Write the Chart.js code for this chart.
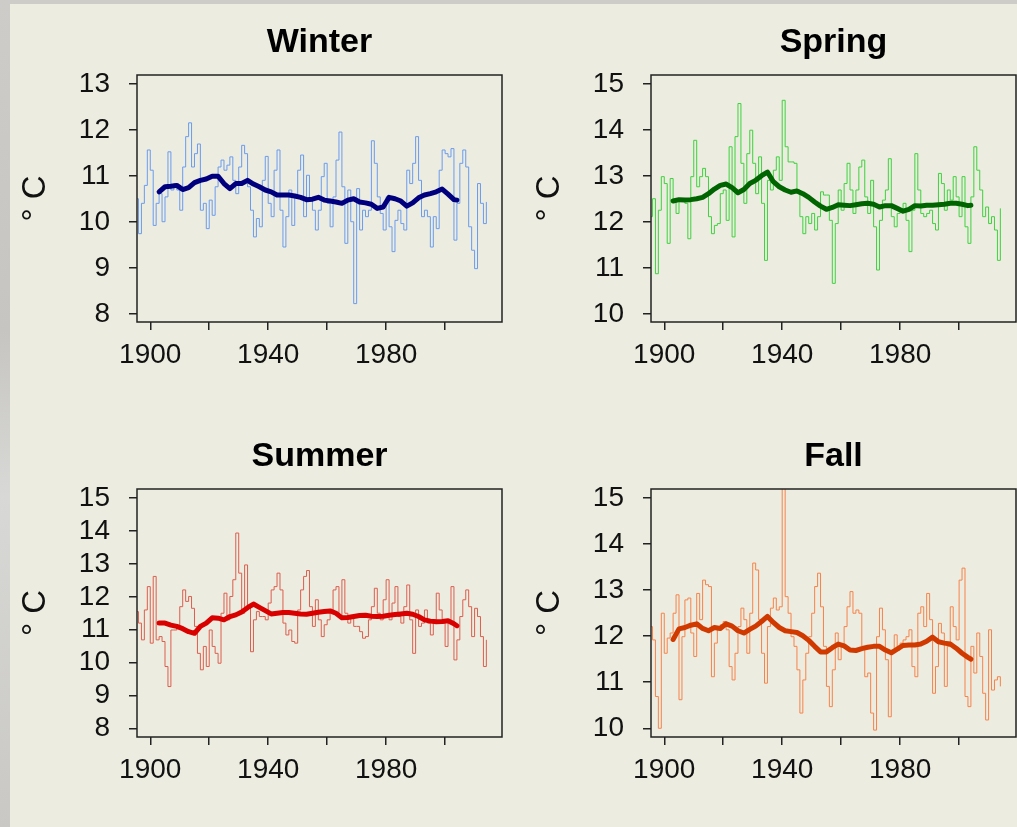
<!DOCTYPE html>
<html>
<head>
<meta charset="utf-8">
<script src="https://cdn.jsdelivr.net/npm/chart.js@4.4.1/dist/chart.umd.min.js"></script>
<style>
  html, body { margin: 0; padding: 0; width: 1017px; height: 827px; overflow: hidden; }
  body { position: relative; background: linear-gradient(180deg, #cdccc8 0%, #c6c5c1 40%, #d8d8d6 60%, #c9c8c4 100%); }
  #panel { position: absolute; left: 10px; top: 4px; width: 1007px; height: 823px; background: #ecece0; }
  canvas { position: absolute; }
</style>
</head>
<body>
<div id="panel"></div>
<canvas id="winterChart" width="510" height="400" style="left:0px;top:0px"></canvas>
<canvas id="springChart" width="510" height="400" style="left:514px;top:0px"></canvas>
<canvas id="summerChart" width="510" height="400" style="left:0px;top:414px"></canvas>
<canvas id="fallChart" width="510" height="400" style="left:514px;top:414px"></canvas>
<script>
// Annual seasonal mean temperatures (°C), 1895-2014
const years = [
  1895, 1896, 1897, 1898, 1899, 1900, 1901, 1902, 1903, 1904,
  1905, 1906, 1907, 1908, 1909, 1910, 1911, 1912, 1913, 1914,
  1915, 1916, 1917, 1918, 1919, 1920, 1921, 1922, 1923, 1924,
  1925, 1926, 1927, 1928, 1929, 1930, 1931, 1932, 1933, 1934,
  1935, 1936, 1937, 1938, 1939, 1940, 1941, 1942, 1943, 1944,
  1945, 1946, 1947, 1948, 1949, 1950, 1951, 1952, 1953, 1954,
  1955, 1956, 1957, 1958, 1959, 1960, 1961, 1962, 1963, 1964,
  1965, 1966, 1967, 1968, 1969, 1970, 1971, 1972, 1973, 1974,
  1975, 1976, 1977, 1978, 1979, 1980, 1981, 1982, 1983, 1984,
  1985, 1986, 1987, 1988, 1989, 1990, 1991, 1992, 1993, 1994,
  1995, 1996, 1997, 1998, 1999, 2000, 2001, 2002, 2003, 2004,
  2005, 2006, 2007, 2008, 2009, 2010, 2011, 2012, 2013, 2014
];

const winterAnnual = [
  10.51, 9.75, 10.41, 10.80, 11.57, 11.13, 9.93, 10.41, 10.62, 10.01,
  10.55, 11.53, 10.70, 10.84, 10.70, 10.26, 11.20, 11.86, 12.16, 11.20,
  11.49, 11.70, 10.26, 10.41, 9.86, 10.48, 10.15, 10.77, 11.20, 11.35,
  11.13, 11.24, 11.42, 10.91, 10.62, 11.20, 11.67, 11.49, 10.77, 10.26,
  9.68, 10.08, 9.90, 10.91, 11.43, 10.41, 10.12, 11.13, 11.57, 10.26,
  9.46, 10.12, 10.70, 9.93, 10.55, 11.13, 11.46, 10.12, 11.02, 10.48,
  10.26, 9.83, 10.26, 10.99, 11.28, 10.41, 9.90, 10.55, 11.35, 11.96,
  10.77, 9.54, 10.70, 10.01, 8.23, 10.73, 9.83, 10.26, 10.12, 10.26,
  11.77, 11.28, 10.55, 10.19, 9.83, 10.55, 9.90, 9.36, 10.04, 10.26,
  9.97, 9.83, 11.13, 10.84, 11.28, 11.86, 10.91, 10.12, 10.26, 10.12,
  9.46, 10.12, 9.86, 11.13, 11.57, 11.49, 11.42, 11.60, 9.61, 10.41,
  11.28, 11.57, 11.20, 9.90, 9.39, 8.99, 10.84, 10.41, 9.97, 10.44
];

const springAnnual = [
  12.12, 12.51, 10.88, 12.26, 12.99, 12.84, 11.54, 12.95, 12.44, 12.19,
  12.48, 12.51, 12.41, 11.64, 12.99, 13.78, 12.77, 12.99, 13.17, 12.99,
  12.12, 11.75, 11.93, 11.97, 12.62, 12.70, 12.04, 13.64, 11.68, 13.86,
  14.58, 13.28, 12.41, 13.49, 14.00, 13.28, 12.62, 13.42, 12.41, 11.17,
  12.91, 12.70, 13.13, 13.42, 12.91, 14.65, 13.64, 13.31, 13.31, 13.28,
  12.70, 12.12, 11.75, 12.12, 11.97, 12.19, 11.83, 12.12, 12.66, 12.59,
  12.59, 12.04, 10.67, 11.97, 12.70, 12.26, 12.84, 13.28, 12.70, 12.19,
  12.70, 13.20, 13.35, 12.55, 12.19, 12.91, 11.90, 10.96, 12.04, 12.48,
  12.70, 13.38, 12.12, 11.90, 12.19, 12.26, 12.41, 12.04, 11.36, 12.26,
  13.49, 12.70, 12.19, 12.12, 12.19, 12.26, 11.97, 11.83, 13.06, 12.84,
  12.26, 12.70, 12.48, 12.99, 12.55, 12.12, 12.99, 11.90, 11.54, 12.55,
  13.64, 13.13, 12.70, 12.12, 12.33, 11.97, 12.12, 11.83, 11.17, 12.30
];

const summerAnnual = [
  11.55, 11.20, 10.69, 11.60, 12.31, 10.59, 12.62, 10.69, 10.79, 10.64,
  9.88, 9.27, 10.99, 10.99, 11.10, 11.70, 12.21, 11.86, 12.01, 11.65,
  11.10, 10.28, 9.78, 10.49, 9.88, 10.99, 10.49, 10.28, 9.98, 11.50,
  12.11, 11.30, 12.01, 12.52, 13.94, 12.72, 11.50, 12.97, 11.70, 10.33,
  11.30, 11.55, 11.40, 11.40, 11.30, 11.81, 12.21, 12.31, 12.72, 12.21,
  11.20, 10.84, 10.99, 10.64, 10.59, 11.60, 12.21, 12.62, 12.80, 11.70,
  11.10, 11.91, 11.30, 10.79, 11.15, 11.30, 11.55, 12.21, 12.31, 11.40,
  12.52, 11.50, 11.20, 11.40, 11.10, 11.10, 10.94, 10.74, 10.79, 11.30,
  11.70, 12.26, 11.50, 11.30, 11.91, 12.52, 11.30, 11.81, 12.31, 11.40,
  11.20, 11.70, 12.36, 11.30, 10.28, 11.60, 11.10, 11.20, 11.60, 11.20,
  10.84, 11.30, 12.11, 11.60, 11.20, 10.49, 11.25, 12.31, 10.08, 10.69,
  11.40, 11.91, 12.21, 11.70, 10.79, 11.65, 11.40, 10.79, 9.88, 10.69
];

const fallAnnual = [
  12.21, 11.92, 10.69, 10.00, 12.50, 11.63, 11.96, 12.07, 12.50, 12.90,
  10.62, 11.99, 12.79, 12.83, 12.07, 11.56, 12.93, 12.36, 13.22, 13.12,
  13.08, 11.12, 11.85, 12.14, 12.25, 12.32, 12.14, 11.34, 11.05, 11.63,
  12.21, 12.61, 12.36, 11.63, 12.50, 13.59, 13.44, 12.36, 11.63, 10.98,
  12.21, 12.61, 12.83, 12.57, 12.64, 15.40, 12.86, 12.50, 11.99, 11.78,
  11.27, 10.33, 11.05, 11.63, 11.99, 12.50, 13.08, 13.37, 12.64, 11.78,
  10.91, 10.47, 11.27, 12.07, 11.49, 11.78, 12.21, 12.64, 12.97, 12.50,
  12.57, 12.50, 11.78, 11.12, 11.20, 10.33, 9.96, 11.99, 12.61, 12.14,
  11.49, 10.25, 11.70, 12.03, 11.70, 11.85, 11.92, 11.99, 12.14, 11.34,
  11.12, 12.50, 12.64, 12.21, 12.93, 12.36, 10.76, 11.34, 12.28, 12.07,
  10.91, 11.78, 12.64, 12.21, 11.92, 13.22, 13.48, 10.69, 10.47, 11.78,
  11.20, 12.07, 11.56, 10.76, 10.18, 12.14, 10.83, 11.05, 11.12, 10.91
];

// Smoothed curves (thick lines)
const smoothYears = [
  1903, 1905, 1907, 1909, 1911, 1913, 1915, 1917, 1919, 1921,
  1923, 1925, 1927, 1929, 1931, 1933, 1935, 1937, 1939, 1941,
  1943, 1945, 1947, 1949, 1951, 1953, 1955, 1957, 1959, 1961,
  1963, 1965, 1967, 1969, 1971, 1973, 1975, 1977, 1979, 1981,
  1983, 1985, 1987, 1989, 1991, 1993, 1995, 1997, 1999, 2001,
  2003, 2004
];

const winterSmooth = [
  10.66, 10.77, 10.78, 10.80, 10.71, 10.75, 10.86, 10.91, 10.94, 11.00,
  11.00, 10.84, 10.73, 10.84, 10.84, 10.91, 10.83, 10.77, 10.70, 10.66,
  10.59, 10.59, 10.59, 10.57, 10.54, 10.49, 10.50, 10.54, 10.48, 10.46,
  10.44, 10.41, 10.48, 10.51, 10.44, 10.42, 10.39, 10.30, 10.33, 10.54,
  10.51, 10.46, 10.35, 10.42, 10.53, 10.59, 10.62, 10.66, 10.72, 10.61,
  10.49, 10.48
];

const springSmooth = [
  12.46, 12.49, 12.48, 12.49, 12.51, 12.54, 12.62, 12.72, 12.80, 12.83,
  12.75, 12.64, 12.71, 12.84, 12.91, 13.01, 13.09, 12.88, 12.77, 12.70,
  12.65, 12.68, 12.62, 12.54, 12.44, 12.35, 12.28, 12.32, 12.38, 12.37,
  12.36, 12.38, 12.40, 12.41, 12.39, 12.33, 12.36, 12.36, 12.30, 12.24,
  12.28, 12.36, 12.35, 12.37, 12.37, 12.38, 12.39, 12.41, 12.41, 12.39,
  12.36, 12.37
];

const summerSmooth = [
  11.20, 11.20, 11.14, 11.10, 11.03, 10.94, 10.89, 11.10, 11.20, 11.36,
  11.35, 11.30, 11.40, 11.45, 11.54, 11.67, 11.78, 11.68, 11.58, 11.48,
  11.50, 11.52, 11.52, 11.50, 11.48, 11.47, 11.50, 11.53, 11.55, 11.57,
  11.50, 11.36, 11.37, 11.40, 11.43, 11.44, 11.41, 11.40, 11.41, 11.44,
  11.46, 11.48, 11.50, 11.47, 11.40, 11.30, 11.26, 11.24, 11.25, 11.27,
  11.18, 11.12
];

const fallSmooth = [
  11.93, 12.16, 12.19, 12.24, 12.27, 12.17, 12.12, 12.19, 12.17, 12.27,
  12.22, 12.12, 12.07, 12.15, 12.22, 12.32, 12.43, 12.30, 12.19, 12.12,
  12.10, 12.08, 12.01, 11.91, 11.78, 11.66, 11.66, 11.75, 11.83, 11.79,
  11.70, 11.69, 11.73, 11.76, 11.78, 11.78, 11.70, 11.64, 11.72, 11.80,
  11.81, 11.81, 11.83, 11.89, 11.98, 11.88, 11.85, 11.83, 11.74, 11.63,
  11.54, 11.50
];

// Axis ticks
const xTicks = [1900, 1920, 1940, 1960, 1980, 2000];
const xTickLabels = [1900, 1940, 1980];
const winterYTicks = [8, 9, 10, 11, 12, 13];
const springYTicks = [10, 11, 12, 13, 14, 15];
const summerYTicks = [8, 9, 10, 11, 12, 13, 14, 15];
const fallYTicks = [10, 11, 12, 13, 14, 15];

Chart.defaults.font.family = '"Liberation Sans", Arial, Helvetica, sans-serif';
Chart.defaults.color = '#111';

// draws the closed box round the plot region, like R's box()
const boxPlugin = {
  id: 'plotBox',
  afterDraw(chart) {
    const { ctx, chartArea } = chart;
    ctx.save();
    ctx.strokeStyle = '#222';
    ctx.lineWidth = 1.5;
    ctx.strokeRect(chartArea.left, chartArea.top, chartArea.right - chartArea.left, chartArea.bottom - chartArea.top);
    ctx.restore();
  }
};

function toPoints(xs, ys) {
  return xs.map((x, i) => ({ x: x, y: ys[i] }));
}

function makePanel(canvasId, title, annual, smooth, thinColor, thickColor, yMin, yMax, yTicks, boxBottom) {
  const ctx = document.getElementById(canvasId).getContext('2d');
  return new Chart(ctx, {
    type: 'line',
    data: {
      datasets: [
        {
          data: toPoints(smoothYears, smooth),
          borderColor: thickColor,
          borderWidth: 5,
          borderJoinStyle: 'round',
          borderCapStyle: 'round',
          pointRadius: 0,
          tension: 0
        },
        {
          data: toPoints(years, annual),
          borderColor: thinColor,
          borderWidth: 1,
          pointRadius: 0,
          stepped: true
        }
      ]
    },
    options: {
      responsive: false,
      animation: false,
      layout: { padding: { left: 0, right: 8, top: 0, bottom: 0 } },
      plugins: {
        legend: { display: false },
        tooltip: { enabled: false },
        title: {
          display: true,
          text: title,
          fullSize: false,
          color: '#000',
          font: { size: 34, weight: 'bold' },
          padding: { top: 22, bottom: 12.2 }
        }
      },
      scales: {
        x: {
          type: 'linear',
          min: 1895.5,
          max: 2019.3,
          afterBuildTicks: (scale) => { scale.ticks = xTicks.map(v => ({ value: v })); },
          afterFit: (scale) => { scale.height = 400 - boxBottom; },
          ticks: {
            autoSkip: false,
            maxRotation: 0,
            padding: 8,
            font: { size: 28 },
            callback: (v) => xTickLabels.includes(v) ? String(v) : ''
          },
          grid: { drawOnChartArea: false, drawTicks: true, tickLength: 8, color: '#222', lineWidth: 1.5 },
          border: { display: false }
        },
        y: {
          min: yMin,
          max: yMax,
          afterBuildTicks: (scale) => { scale.ticks = yTicks.map(v => ({ value: v })); },
          afterFit: (scale) => { scale.width = 137; },
          ticks: { autoSkip: false, padding: 19, font: { size: 28 } },
          grid: { drawOnChartArea: false, drawTicks: true, tickLength: 8, color: '#222', lineWidth: 1.5 },
          border: { display: false },
          title: {
            display: true,
            text: '° C',
            color: '#111',
            font: { size: 33 },
            padding: { top: 15.7, bottom: 0 }
          }
        }
      }
    },
    plugins: [boxPlugin]
  });
}

makePanel('winterChart', 'Winter', winterAnnual, winterSmooth, '#6a9bef', '#00007f', 7.83, 13.2, winterYTicks, 322);
makePanel('springChart', 'Spring', springAnnual, springSmooth, '#3ed23e', '#006400', 9.83, 15.2, springYTicks, 322);
makePanel('summerChart', 'Summer', summerAnnual, summerSmooth, '#dd5e4e', '#d90000', 7.735, 15.28, summerYTicks, 323);
makePanel('fallChart', 'Fall', fallAnnual, fallSmooth, '#f7834a', '#d03a00', 9.81, 15.2, fallYTicks, 323);
</script>
</body>
</html>
